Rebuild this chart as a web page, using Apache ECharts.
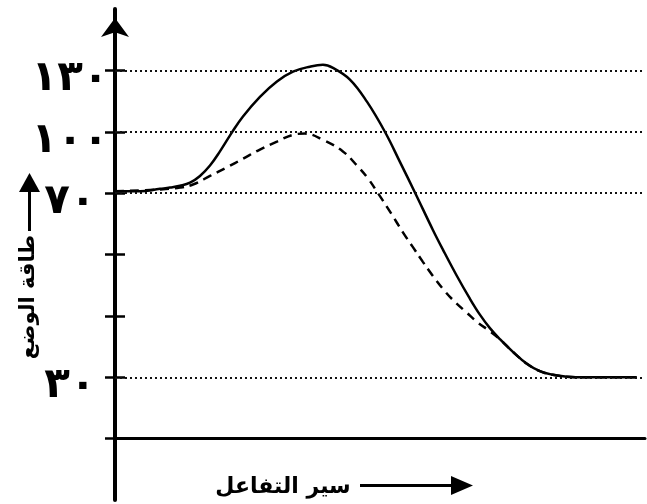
<!DOCTYPE html>
<html>
<head>
<meta charset="utf-8">
<script src="https://cdn.jsdelivr.net/npm/echarts@6/dist/echarts.min.js"></script>
<style>html,body{margin:0;padding:0;background:#fff}#c{width:647px;height:504px}</style>
</head>
<body>
<div id="c"></div>
<script>
// Level positions on the (non-linear) energy axis and their labels
const tickPositions = [1, 4, 5, 6];
const tickLabels = ['٣٠', '٧٠', '١٠٠', '١٣٠'];
const allTicks = [0, 1, 2, 3, 4, 5, 6];
const yAxisName = 'طاقة الوضع';
const xAxisName = 'سير التفاعل';

// Reaction progress (x) and potential energy level (y)
const solidX = [0, 4.74, 8.54, 10.44, 12.33, 14.23, 16.13, 18.03, 19.92, 22.20, 24.29, 27.51, 30.74, 33.78, 37.00, 39.47, 41.37, 44.59, 47.82, 51.23, 54.08, 56.93, 60.34, 62.24, 64.90, 67.36, 69.26, 71.16, 73.06, 75.33, 78.18, 80.65, 83.11, 85.77, 89.18, 99.05];
const solidY = [4.03, 4.03, 4.07, 4.09, 4.12, 4.17, 4.28, 4.45, 4.68, 4.99, 5.25, 5.57, 5.82, 5.98, 6.06, 6.09, 6.04, 5.85, 5.49, 5.00, 4.51, 4.01, 3.40, 3.08, 2.65, 2.28, 2.02, 1.80, 1.62, 1.43, 1.22, 1.10, 1.04, 1.01, 1.00, 1.00];
const dashedX = [0, 8.54, 12.33, 14.80, 18.03, 21.25, 24.29, 27.51, 30.74, 33.78, 36.05, 39.47, 43.26, 45.92, 48.01, 49.91, 52.56, 54.65, 56.55, 58.44, 60.34, 62.24, 64.14, 66.79, 68.88, 71.16, 73.06, 75.33, 78.18, 80.65, 83.11, 85.77, 89.18, 99.05];
const dashedY = [4.03, 4.06, 4.09, 4.14, 4.28, 4.42, 4.56, 4.71, 4.84, 4.95, 4.97, 4.87, 4.68, 4.45, 4.24, 4.00, 3.65, 3.36, 3.12, 2.88, 2.65, 2.44, 2.26, 2.05, 1.89, 1.75, 1.62, 1.43, 1.22, 1.10, 1.04, 1.01, 1.00, 1.00];

const zip = (xs, ys) => xs.map((x, i) => [x, ys[i]]);
const FONT = 'DejaVu Sans';

const chart = echarts.init(document.getElementById('c'), null, {renderer: 'canvas'});
chart.setOption({
  animation: false,
  backgroundColor: '#fff',
  grid: {left: 115, right: 2, top: 9, bottom: 4, containLabel: false},
  xAxis: {
    type: 'value', min: 0, max: 100.6,
    axisLine: {show: true, onZero: true, lineStyle: {color: '#000', width: 3}},
    axisTick: {show: false}, axisLabel: {show: false}, splitLine: {show: false}
  },
  yAxis: [{
    type: 'value', min: -1, max: 7, position: 'left',
    axisLine: {show: true, onZero: false, lineStyle: {color: '#000', width: 4},
      symbol: ['none', 'arrow'], symbolSize: [21, 19], symbolOffset: [0, -9]},
    axisTick: {show: true, inside: false, length: 10, customValues: allTicks, lineStyle: {color: '#000', width: 2.5}},
    axisLabel: {
      show: true, customValues: tickPositions, margin: 45, align: 'center',
      formatter: v => '{v|' + (tickLabels[tickPositions.indexOf(v)] || '') + '}',
      rich: {v: {color: '#000', fontFamily: FONT, fontWeight: 'bold', fontSize: 42, padding: [18, 0, 0, 0]}}
    },
    splitLine: {show: false}
  }, {
    type: 'value', min: -1, max: 7, position: 'left', offset: 0,
    axisLine: {show: false, onZero: false},
    axisTick: {show: true, inside: true, length: 10, customValues: allTicks.slice(1), lineStyle: {color: '#000', width: 2.5}},
    axisLabel: {show: false}, splitLine: {show: false}
  }],
  series: [{
    type: 'line', data: [], z: 1, silent: true,
    markLine: {
      symbol: 'none', silent: true, label: {show: false},
      lineStyle: {color: '#111', width: 2, type: [2, 3]},
      data: tickPositions.map(p => ({yAxis: p}))
    }
  }, {
    name: 'dashed', type: 'line', data: zip(dashedX, dashedY), smooth: 0.4, showSymbol: false, z: 3,
    lineStyle: {color: '#000', width: 2.5, type: [9, 6]}
  }, {
    name: 'solid', type: 'line', data: zip(solidX, solidY), smooth: 0.4, showSymbol: false, z: 4,
    lineStyle: {color: '#000', width: 2.5}
  }],
  graphic: [
    {type: 'line', shape: {x1: 29.5, y1: 231, x2: 29.5, y2: 190}, style: {stroke: '#000', lineWidth: 3}},
    {type: 'polygon', shape: {points: [[19, 192], [40, 192], [29.5, 173]]}, style: {fill: '#000'}},
    {type: 'text', x: 29, y: 297, rotation: Math.PI / 2,
      style: {text: yAxisName, fill: '#000', font: 'bold 21px "DejaVu Sans"', align: 'center', verticalAlign: 'middle'}},
    {type: 'text', x: 283, y: 487,
      style: {text: xAxisName, fill: '#000', font: 'bold 22px "DejaVu Sans"', align: 'center', verticalAlign: 'middle'}},
    {type: 'line', shape: {x1: 360, y1: 485.5, x2: 455, y2: 485.5}, style: {stroke: '#000', lineWidth: 3}},
    {type: 'polygon', shape: {points: [[451, 476], [451, 495], [473, 485.5]]}, style: {fill: '#000'}}
  ]
});
</script>
</body>
</html>
